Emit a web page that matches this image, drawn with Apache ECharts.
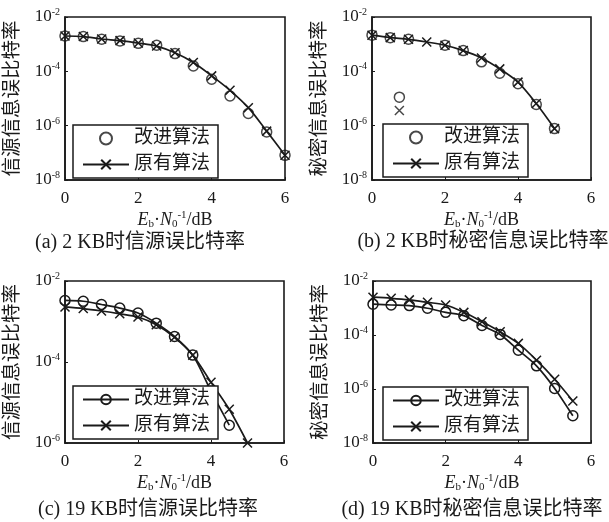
<!DOCTYPE html>
<html>
<head>
<meta charset="utf-8">
<script src="https://cdn.jsdelivr.net/npm/echarts@6/dist/echarts.min.js"></script>
<style>
  html, body { margin: 0; padding: 0; background: #fff; }
  #chart { width: 609px; height: 522px; }
</style>
</head>
<body>
<div id="chart"></div>
<script>
// Eb/N0 sample points (dB)
const snr = [0, 0.5, 1, 1.5, 2, 2.5, 3, 3.5, 4, 4.5, 5, 5.5, 6];
const xTicks = [0, 2, 4, 6];

// (a) 2 KB, source bit error rate
const aImproved = [2.0e-3, 1.9e-3, 1.51e-3, 1.32e-3, 1.07e-3, 9.1e-4, 4.5e-4, 1.58e-4, 5.1e-5, 1.23e-5, 2.8e-6, 5.9e-7, 8.1e-8];
const aOriginal = [2.0e-3, 1.9e-3, 1.55e-3, 1.35e-3, 1.1e-3, 8.5e-4, 4.8e-4, 2.1e-4, 6.8e-5, 2.0e-5, 4.6e-6, 6.3e-7, 8.1e-8];

// (b) 2 KB, secret information bit error rate
const bImprovedX = [0, 0.5, 0.75, 1, 2, 2.5, 3, 3.5, 4, 4.5, 5];
const bImproved = [2.14e-3, 1.74e-3, 1.12e-5, 1.51e-3, 9.1e-4, 5.8e-4, 2.24e-4, 8.5e-5, 3.5e-5, 6.0e-6, 7.8e-7];
const bOriginal = [2.14e-3, 1.74e-3, 1.51e-3, 1.2e-3, 9.1e-4, 5.8e-4, 3.1e-4, 1.23e-4, 4.0e-5, 6.5e-6, 7.8e-7];
const bLoneX = [0.75];
const bLone = [3.6e-6];

// (c) 19 KB, source bit error rate
const cImproved = [3.31e-3, 3.16e-3, 2.63e-3, 2.14e-3, 1.62e-3, 9.1e-4, 4.27e-4, 1.48e-4, 1.9e-5, 2.75e-6];
const cOriginal = [2.29e-3, 2.09e-3, 1.82e-3, 1.55e-3, 1.29e-3, 8.3e-4, 4.07e-4, 1.48e-4, 3.16e-5, 6.8e-6, 1.0e-6];

// (d) 19 KB, secret information bit error rate
const dImproved = [1.38e-3, 1.29e-3, 1.23e-3, 9.8e-4, 6.9e-4, 5.2e-4, 2.24e-4, 1.05e-4, 2.75e-5, 7.2e-6, 1.05e-6, 1.02e-7];
const dOriginal = [2.51e-3, 2.29e-3, 2.0e-3, 1.62e-3, 1.29e-3, 6.9e-4, 3.1e-4, 1.32e-4, 4.9e-5, 1.17e-5, 2.3e-6, 3.6e-7];

// y-axis ranges (BER) and the decades that carry a tick label
const yRanges = [[1e-8, 1e-2], [1e-8, 1e-2], [1e-6, 1e-2], [1e-8, 1e-2]];
const yTickExponents = [-2, -4, -6, -8];

const legendNames = ['改进算法', '原有算法'];
const yNames = ['信源信息误比特率', '秘密信息误比特率', '信源信息误比特率', '秘密信息误比特率'];
const captions = ['(a) 2 KB时信源误比特率', '(b) 2 KB时秘密信息误比特率', '(c) 19 KB时信源误比特率', '(d) 19 KB时秘密信息误比特率'];

const INK = '#1a1a1a';
const SERIF = '"Liberation Serif", "Noto Sans CJK SC", serif';
const CJK = '"Liberation Serif", "Noto Sans CJK SC", sans-serif';
const CROSS = 'path://M0 0L10 10M10 0L0 10';

function pairs(xs, ys) {
  return ys.map((v, i) => [xs[i], v]);
}

const grids = [
  { left: 65, top: 17, width: 220, height: 163 },
  { left: 372, top: 17, width: 219, height: 163 },
  { left: 65, top: 281, width: 219, height: 162 },
  { left: 373, top: 281, width: 218, height: 162 }
];
const legendBoxes = [
  { left: 73, top: 125 }, { left: 383, top: 124 }, { left: 73, top: 386 }, { left: 383, top: 387 }
];
const captionPos = [[140, 243], [483, 242], [148, 510], [472, 510]];

const xName = '{i|E}{sub|b}{n|·}{i|N}{sub|0}{sup|-1}{n|/dB}';
const xNameRich = {
  i: { fontFamily: SERIF, fontStyle: 'italic', fontSize: 18, color: INK },
  n: { fontFamily: SERIF, fontSize: 18, color: INK },
  sub: { fontFamily: SERIF, fontSize: 11, color: INK, padding: [9, 0, 0, 0] },
  sup: { fontFamily: SERIF, fontSize: 11, color: INK, padding: [0, 0, 9, 0] }
};

const xAxes = grids.map((g, k) => ({
  type: 'value', gridIndex: k, min: 0, max: 6, interval: 2,
  axisLine: { lineStyle: { color: INK, width: 1.6 } },
  axisTick: { inside: true, length: 3, lineStyle: { color: INK } },
  splitLine: { show: false },
  axisLabel: {
    color: INK, fontFamily: SERIF, fontSize: 17, margin: 10,
    formatter: v => xTicks.includes(v) ? String(v) : ''
  },
  name: xName, nameLocation: 'middle', nameGap: 30,
  nameTextStyle: { rich: xNameRich }
}));

const yAxes = grids.map((g, k) => ({
  type: 'log', logBase: 10, gridIndex: k,
  min: yRanges[k][0], max: yRanges[k][1], interval: 2,
  axisLine: { lineStyle: { color: INK, width: 1.6 } },
  axisTick: { inside: true, length: 3, lineStyle: { color: INK } },
  splitLine: { show: false },
  minorTick: { show: false },
  axisLabel: {
    margin: 5,
    formatter: v => {
      const e = Math.round(Math.log10(v));
      return yTickExponents.includes(e) ? '{b|10}{s|' + e + '}' : '';
    },
    rich: {
      b: { fontFamily: SERIF, fontSize: 17, color: INK },
      s: { fontFamily: SERIF, fontSize: 10, color: INK, padding: [0, 0, 9, 0] }
    }
  },
  name: yNames[k], nameLocation: 'middle', nameRotate: 90, nameGap: 42,
  nameTextStyle: { fontFamily: CJK, fontSize: 19.5, color: INK }
}));

const circleStyle = { color: 'transparent', borderColor: INK, borderWidth: 1.5 };
const crossStyle = { color: INK, borderColor: INK, borderWidth: 1.5 };
const lineStyle = { color: INK, width: 1.7 };

function lineSeries(name, k, data, symbol, style) {
  return {
    name: name, type: 'line', xAxisIndex: k, yAxisIndex: k, data: data,
    smooth: 0.3, symbol: symbol, symbolSize: symbol === CROSS ? 9 : 10,
    showAllSymbol: true, clip: false,
    itemStyle: style, lineStyle: lineStyle, emphasis: { disabled: true }
  };
}
function scatterSeries(name, k, data, symbol, style) {
  return {
    name: name, type: 'scatter', xAxisIndex: k, yAxisIndex: k, data: data,
    symbol: symbol, symbolSize: symbol === CROSS ? 9 : 10, clip: false,
    itemStyle: style, emphasis: { disabled: true }
  };
}

// series names carry a panel prefix so every legend gets its own icon
const key = (k, i) => 'abcd'[k] + ':' + legendNames[i];

const series = [
  scatterSeries(key(0, 0), 0, pairs(snr, aImproved), 'circle', circleStyle),
  lineSeries(key(0, 1), 0, pairs(snr, aOriginal), CROSS, crossStyle),

  scatterSeries(key(1, 0), 1, pairs(bImprovedX, bImproved), 'circle', circleStyle),
  lineSeries(key(1, 1), 1, pairs(snr, bOriginal), CROSS, crossStyle),
  scatterSeries('b:lone', 1, pairs(bLoneX, bLone), CROSS, crossStyle),

  lineSeries(key(2, 0), 2, pairs(snr, cImproved), 'circle', circleStyle),
  lineSeries(key(2, 1), 2, pairs(snr, cOriginal), CROSS, crossStyle),

  lineSeries(key(3, 0), 3, pairs(snr, dImproved), 'circle', circleStyle),
  lineSeries(key(3, 1), 3, pairs(snr, dOriginal), CROSS, crossStyle)
];

const legends = grids.map((g, k) => ({
  data: [key(k, 0), key(k, 1)],
  orient: 'vertical',
  left: legendBoxes[k].left, top: legendBoxes[k].top,
  backgroundColor: '#fff',
  borderColor: INK, borderWidth: 1.5, borderRadius: 0,
  padding: [4, 8, 4, 9], itemGap: 7,
  itemWidth: 46, itemHeight: 12,
  selectedMode: false,
  formatter: n => n.split(':')[1],
  textStyle: { fontFamily: CJK, fontSize: 19, color: INK }
}));

const chart = echarts.init(document.getElementById('chart'));
chart.setOption({
  animation: false,
  backgroundColor: '#fff',
  grid: grids.map(g => Object.assign({ show: true, borderColor: INK, borderWidth: 1.6, backgroundColor: 'transparent' }, g)),
  xAxis: xAxes,
  yAxis: yAxes,
  legend: legends,
  series: series,
  graphic: captions.map((t, k) => ({
    type: 'text', x: captionPos[k][0], y: captionPos[k][1],
    style: { text: t, fill: INK, font: '20px ' + CJK, align: 'center', verticalAlign: 'middle' }
  }))
});
</script>
</body>
</html>
